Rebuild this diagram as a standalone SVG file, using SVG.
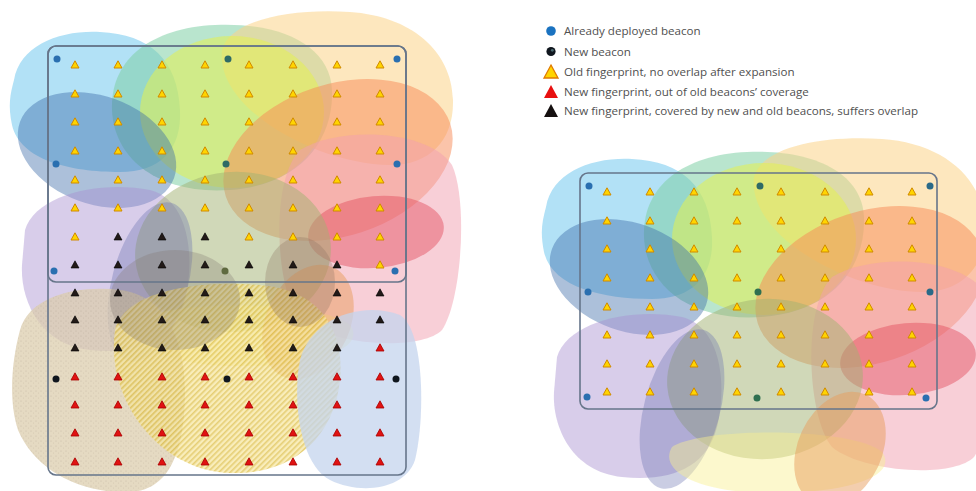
<svg xmlns="http://www.w3.org/2000/svg" xmlns:xlink="http://www.w3.org/1999/xlink" width="976" height="491" viewBox="0 0 976 491">
<style>
.leg{font-family:"Open Sans","Liberation Sans",sans-serif;font-size:11.6px;fill:#505050}
.frame{fill:none;stroke:#66758a;stroke-width:1.6}
.b-old{fill:#2a6fb0}
.b-mid{fill:#2f6a66}
.b-new{fill:#10161e}
</style>
<defs>
<pattern id="hatch" width="4" height="4" patternUnits="userSpaceOnUse" patternTransform="rotate(45)">
<rect width="4" height="4" fill="#f6e6a0"/>
<rect width="1.6" height="4" fill="#dcbc40"/>
</pattern>
<pattern id="stip" width="5" height="5" patternUnits="userSpaceOnUse">
<rect width="5" height="5" fill="#dccdae"/>
<circle cx="1" cy="1" r="0.6" fill="#b8a888"/>
<circle cx="3.5" cy="3" r="0.5" fill="#c4b494"/>
</pattern>
<path id="ty" d="M0,-4.2 L4,3 L-4,3 Z" fill="#ffd400" stroke="#d08a00" stroke-width="1"/>
<path id="tr" d="M0,-4.2 L4,3 L-4,3 Z" fill="#e01212" stroke="#a80000" stroke-width="0.8"/>
<path id="tb" d="M0,-4.2 L4,3 L-4,3 Z" fill="#221a18" stroke="#000" stroke-width="0.6"/>
<g id="rowY">
<use xlink:href="#ty" x="75"/><use xlink:href="#ty" x="118"/><use xlink:href="#ty" x="162"/><use xlink:href="#ty" x="205"/>
<use xlink:href="#ty" x="249"/><use xlink:href="#ty" x="293"/><use xlink:href="#ty" x="337"/><use xlink:href="#ty" x="380"/>
</g>
<g id="rowR">
<use xlink:href="#tr" x="75"/><use xlink:href="#tr" x="118"/><use xlink:href="#tr" x="162"/><use xlink:href="#tr" x="205"/>
<use xlink:href="#tr" x="249"/><use xlink:href="#tr" x="293"/><use xlink:href="#tr" x="337"/><use xlink:href="#tr" x="380"/>
</g>
<g id="rowB">
<use xlink:href="#tb" x="75"/><use xlink:href="#tb" x="118"/><use xlink:href="#tb" x="162"/><use xlink:href="#tb" x="205"/>
<use xlink:href="#tb" x="249"/><use xlink:href="#tb" x="293"/><use xlink:href="#tb" x="337"/><use xlink:href="#tb" x="380"/>
</g>
<g id="blobs">
<path d="M14,80 C20,45 60,30 100,32 C150,34 178,60 180,110 C182,150 160,172 120,172 C70,172 20,160 12,125 C8,105 10,95 14,80 Z" fill="#6cc6ee" fill-opacity="0.52"/>
<path d="M112,110 C110,60 150,28 215,25 C280,22 330,45 332,90 C334,140 300,185 230,190 C160,195 114,160 112,110 Z" fill="#80d0a6" fill-opacity="0.55"/>
<path d="M222,50 C230,20 290,8 350,12 C410,16 452,50 453,100 C454,140 430,165 390,165 C320,165 215,110 222,50 Z" fill="#fcd488" fill-opacity="0.55"/>
<ellipse cx="232" cy="112" rx="92" ry="76" fill="#e4f050" fill-opacity="0.55"/>
<ellipse cx="338" cy="160" rx="118" ry="76" transform="rotate(-18 338 160)" fill="#f78a56" fill-opacity="0.5"/>
<path d="M300,150 C340,125 430,130 452,165 C468,200 462,300 442,330 C420,352 330,345 300,320 C275,290 270,180 300,150 Z" fill="#f2a0b0" fill-opacity="0.5"/>
<ellipse cx="376" cy="232" rx="68" ry="36" transform="rotate(-5 376 232)" fill="#e24a5c" fill-opacity="0.45"/>
<ellipse cx="97" cy="150" rx="82" ry="54" transform="rotate(20 97 150)" fill="#3a6aa8" fill-opacity="0.42"/>
<path d="M25,230 C35,195 100,180 150,190 C190,200 195,260 185,300 C175,340 140,355 90,350 C40,345 20,300 22,265 Z" fill="#a890d0" fill-opacity="0.45"/>
<ellipse cx="233" cy="252" rx="98" ry="80" transform="rotate(-5 233 252)" fill="#a2b272" fill-opacity="0.5"/>
<ellipse cx="150" cy="282" rx="38" ry="82" transform="rotate(15 150 282)" fill="#6870b0" fill-opacity="0.35"/>
<path d="M140,320 C170,300 320,300 350,325 C365,345 330,364 250,366 C170,368 125,345 140,320 Z" fill="#f8f090" fill-opacity="0.45"/>
<ellipse cx="308" cy="322" rx="42" ry="60" transform="rotate(25 308 322)" fill="#e89e5e" fill-opacity="0.5"/>
</g>
</defs>

<g id="left-panel">
<use xlink:href="#blobs"/>
<g id="new-coverage">
<path d="M20,330 C30,295 80,285 120,290 C165,295 185,340 185,390 C185,440 175,490 130,492 C80,494 35,470 18,430 C8,400 12,360 20,330 Z" fill="url(#stip)" fill-opacity="0.75"/>
<path d="M115,330 C125,290 200,280 260,285 C320,290 345,330 340,380 C335,430 300,475 230,473 C160,471 105,400 115,330 Z" fill="url(#hatch)" fill-opacity="0.72"/>
<path d="M300,360 C310,320 360,300 400,315 C425,330 425,420 415,460 C405,490 360,495 330,480 C300,465 292,400 300,360 Z" fill="#c4d4ee" fill-opacity="0.75"/>
<ellipse cx="175" cy="300" rx="65" ry="50" fill="#807870" fill-opacity="0.3"/>
<ellipse cx="300" cy="282" rx="35" ry="45" fill="#8a7060" fill-opacity="0.3"/>
</g>
<rect class="frame" x="48" y="46" width="358" height="429" rx="8"/>
<rect class="frame" x="48" y="46" width="358" height="236" rx="8"/>
<g id="left-fingerprints">
<use xlink:href="#rowY" y="65"/><use xlink:href="#rowY" y="94"/><use xlink:href="#rowY" y="122"/>
<use xlink:href="#rowY" y="151"/><use xlink:href="#rowY" y="180"/><use xlink:href="#rowY" y="208"/>
<use xlink:href="#ty" x="75" y="237"/><use xlink:href="#tb" x="118" y="237"/><use xlink:href="#tb" x="162" y="237"/><use xlink:href="#tb" x="205" y="237"/>
<use xlink:href="#ty" x="249" y="237"/><use xlink:href="#ty" x="293" y="237"/><use xlink:href="#ty" x="337" y="237"/><use xlink:href="#ty" x="380" y="237"/>
<use xlink:href="#tb" x="75" y="265"/><use xlink:href="#tb" x="118" y="265"/><use xlink:href="#tb" x="162" y="265"/><use xlink:href="#tb" x="205" y="265"/>
<use xlink:href="#tb" x="249" y="265"/><use xlink:href="#tb" x="293" y="265"/><use xlink:href="#tb" x="337" y="265"/><use xlink:href="#ty" x="380" y="265"/>
<use xlink:href="#rowB" y="293"/><use xlink:href="#rowB" y="320"/>
<use xlink:href="#tb" x="75" y="348"/><use xlink:href="#tb" x="118" y="348"/><use xlink:href="#tb" x="162" y="348"/><use xlink:href="#tb" x="205" y="348"/>
<use xlink:href="#tb" x="249" y="348"/><use xlink:href="#tb" x="293" y="348"/><use xlink:href="#tb" x="337" y="348"/><use xlink:href="#tr" x="380" y="348"/>
<use xlink:href="#rowR" y="377"/><use xlink:href="#rowR" y="405"/><use xlink:href="#rowR" y="433"/><use xlink:href="#rowR" y="462"/>
</g>
<g id="left-beacons">
<circle class="b-old" cx="57" cy="59" r="3.5"/><circle class="b-mid" cx="228" cy="59" r="3.5"/><circle class="b-old" cx="397" cy="59" r="3.5"/>
<circle class="b-old" cx="56" cy="164" r="3.5"/><circle class="b-mid" cx="226" cy="164" r="3.5"/><circle class="b-old" cx="397" cy="164" r="3.5"/>
<circle class="b-old" cx="54" cy="271" r="3.5"/><circle cx="225" cy="271" r="3.5" fill="#5f6a40"/><circle class="b-old" cx="395" cy="271" r="3.5"/>
<circle class="b-new" cx="56" cy="379" r="3.5"/><circle class="b-new" cx="227" cy="379" r="3.5"/><circle class="b-new" cx="396" cy="379" r="3.5"/>
</g>
</g>

<g id="right-panel" transform="translate(532,127)">
<use xlink:href="#blobs"/>
<rect class="frame" x="48" y="46" width="357" height="236" rx="8"/>
<g id="right-fingerprints">
<use xlink:href="#rowY" y="65"/><use xlink:href="#rowY" y="94"/><use xlink:href="#rowY" y="122"/><use xlink:href="#rowY" y="151"/>
<use xlink:href="#rowY" y="180"/><use xlink:href="#rowY" y="208"/><use xlink:href="#rowY" y="237"/><use xlink:href="#rowY" y="265"/>
</g>
<g id="right-beacons">
<circle class="b-old" cx="57" cy="59" r="3.5"/><circle class="b-mid" cx="228" cy="59" r="3.5"/><circle cx="398" cy="59" r="3.5" fill="#2a6a88"/>
<circle class="b-old" cx="56" cy="165" r="3.5"/><circle cx="226" cy="165" r="3.5" fill="#2f7050"/><circle cx="398" cy="165" r="3.5" fill="#2a6a88"/>
<circle class="b-old" cx="55" cy="270" r="3.5"/><circle cx="225" cy="271" r="3.5" fill="#2f7050"/><circle class="b-old" cx="394" cy="271" r="3.5"/>
</g>
</g>

<g id="legend">
<circle cx="551" cy="31" r="4.8" fill="#1a72c0"/>
<text class="leg" x="564" y="35">Already deployed beacon</text>
<circle cx="551" cy="51.5" r="4.6" fill="#10161e"/>
<circle cx="552.3" cy="50.3" r="1.4" fill="#4a6a70"/>
<text class="leg" x="564" y="55.5">New beacon</text>
<path d="M551,65 L558,78 L544,78 Z" fill="#ffd400" stroke="#e07a00" stroke-width="1.3"/>
<text class="leg" x="564" y="76">Old fingerprint, no overlap after expansion</text>
<path d="M551,85 L558,98 L544,98 Z" fill="#e81010"/>
<text class="leg" x="564" y="96">New fingerprint, out of old beacons’ coverage</text>
<path d="M551,104 L558,117 L544,117 Z" fill="#151010"/>
<text class="leg" x="564" y="115">New fingerprint, covered by new and old beacons, suffers overlap</text>
</g>
</svg>
